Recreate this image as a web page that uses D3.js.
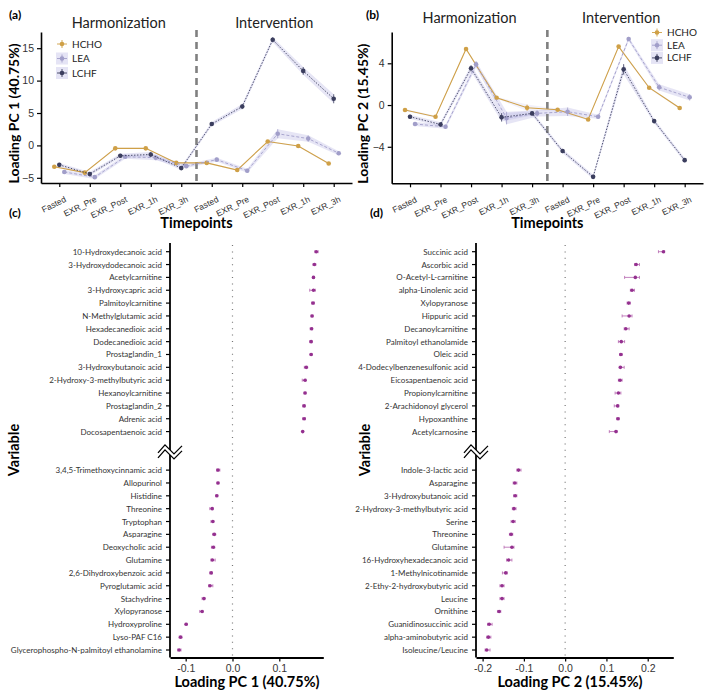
<!DOCTYPE html>
<html>
<head>
<meta charset="utf-8">
<script src="https://cdn.jsdelivr.net/npm/d3@7"></script>
<style>
  body { margin: 0; background: #fff; }
  svg { font-family: Lato, "Open Sans", sans-serif; }
</style>
</head>
<body>
<div id="chart"></div>
<script>
// ---- data ----
const timepoints = ["Fasted", "EXR_Pre", "EXR_Post", "EXR_1h", "EXR_3h",
                    "Fasted", "EXR_Pre", "EXR_Post", "EXR_1h", "EXR_3h"];
const groups = ["HCHO", "LEA", "LCHF"];

// panel (a) PC1 loadings per diet
const pc1HCHO = [-3.3, -4.2, -0.45, -0.45, -2.7, -2.7, -3.8, 0.6, -0.1, -2.8];
const pc1LEA  = [-4.1, -4.9, -1.75, -1.9, -3.2, -2.2, -3.9, 1.8, 1.05, -1.2];
const pc1LCHF = [-3.0, -4.4, -1.6, -1.4, -3.5, 3.3, 6.0, 16.3, 11.5, 7.2];
const pc1seHCHO = [0.1, 0.1, 0.1, 0.1, 0.1, 0.1, 0.1, 0.1, 0.1, 0.1];
const pc1seLEA  = [0.3, 0.3, 0.3, 0.4, 0.3, 0.3, 0.3, 0.7, 0.5, 0.3];
const pc1seLCHF = [0.3, 0.3, 0.3, 0.4, 0.3, 0.3, 0.4, 0.4, 0.6, 0.7];

// panel (b) PC2 loadings per diet
const pc2HCHO = [-0.48, -1.12, 5.37, 0.7, -0.26, -0.45, -1.38, 5.6, 1.66, -0.29];
const pc2LEA  = [-1.82, -2.08, 3.9, -1.25, -0.8, -0.64, -1.12, 6.33, 1.7, 0.74];
const pc2LCHF = [-1.12, -1.86, 3.52, -1.18, -0.8, -4.41, -6.88, 3.42, -1.54, -5.28];
const pc2seHCHO = [0.1, 0.1, 0.1, 0.1, 0.3, 0.1, 0.1, 0.1, 0.1, 0.1];
const pc2seLEA  = [0.2, 0.2, 0.3, 0.6, 0.3, 0.4, 0.2, 0.2, 0.3, 0.3];
const pc2seLCHF = [0.2, 0.2, 0.3, 0.4, 0.2, 0.2, 0.2, 0.5, 0.2, 0.2];

// panel (c) PC1 variable loadings
const pc1TopVars = ["10-Hydroxydecanoic acid", "3-Hydroxydodecanoic acid", "Acetylcarnitine",
  "3-Hydroxycapric acid", "Palmitoylcarnitine", "N-Methylglutamic acid", "Hexadecanedioic acid",
  "Dodecanedioic acid", "Prostaglandin_1", "3-Hydroxybutanoic acid", "2-Hydroxy-3-methylbutyric acid",
  "Hexanoylcarnitine", "Prostaglandin_2", "Adrenic acid", "Docosapentaenoic acid"];
const pc1TopVals = [0.179, 0.175, 0.173, 0.173, 0.172, 0.170, 0.169, 0.168, 0.168,
  0.1575, 0.155, 0.155, 0.153, 0.153, 0.150];
const pc1TopLo = [0.003, 0.003, 0.002, 0.008, 0.003, 0.002, 0.003, 0.003, 0.002,
  0.004, 0.006, 0.002, 0.003, 0.003, 0.001];
const pc1TopHi = [0.004, 0.003, 0.002, 0.004, 0.003, 0.002, 0.002, 0.002, 0.002,
  0.003, 0.002, 0.002, 0.002, 0.003, 0.001];
const pc1BotVars = ["3,4,5-Trimethoxycinnamic acid", "Allopurinol", "Histidine", "Threonine",
  "Tryptophan", "Asparagine", "Deoxycholic acid", "Glutamine", "2,6-Dihydroxybenzoic acid",
  "Pyroglutamic acid", "Stachydrine", "Xylopyranose", "Hydroxyproline", "Lyso-PAF C16",
  "Glycerophospho-N-palmitoyl ethanolamine"];
const pc1BotVals = [-0.031, -0.031, -0.0335, -0.0435, -0.042, -0.039, -0.041, -0.043, -0.0455,
  -0.048, -0.061, -0.065, -0.099, -0.111, -0.114];
const pc1BotLo = [0.003, 0.002, 0.002, 0.005, 0.004, 0.003, 0.004, 0.003, 0.003,
  0.003, 0.004, 0.005, 0.002, 0.003, 0.003];
const pc1BotHi = [0.004, 0.002, 0.002, 0.002, 0.002, 0.003, 0.003, 0.006, 0.002,
  0.006, 0.002, 0.002, 0.002, 0.003, 0.004];

// panel (d) PC2 variable loadings
const pc2TopVars = ["Succinic acid", "Ascorbic acid", "O-Acetyl-L-carnitine", "alpha-Linolenic acid",
  "Xylopyranose", "Hippuric acid", "Decanoylcarnitine", "Palmitoyl ethanolamide", "Oleic acid",
  "4-Dodecylbenzenesulfonic acid", "Eicosapentaenoic acid", "Propionylcarnitine",
  "2-Arachidonoyl glycerol", "Hypoxanthine", "Acetylcarnosine"];
const pc2TopVals = [0.238, 0.172, 0.170, 0.162, 0.154, 0.155, 0.147, 0.136, 0.135,
  0.134, 0.133, 0.129, 0.127, 0.128, 0.123];
const pc2TopLo = [0.012, 0.004, 0.026, 0.004, 0.004, 0.017, 0.004, 0.007, 0.003,
  0.003, 0.004, 0.008, 0.008, 0.003, 0.016];
const pc2TopHi = [0.003, 0.008, 0.010, 0.006, 0.004, 0.007, 0.008, 0.008, 0.003,
  0.009, 0.005, 0.006, 0.003, 0.003, 0.003];
const pc2BotVars = ["Indole-3-lactic acid", "Asparagine", "3-Hydroxybutanoic acid",
  "2-Hydroxy-3-methylbutyric acid", "Serine", "Threonine", "Glutamine", "16-Hydroxyhexadecanoic acid",
  "1-Methylnicotinamide", "2-Ethy-2-hydroxybutyric acid", "Leucine", "Ornithine",
  "Guanidinosuccinic acid", "alpha-aminobutyric acid", "Isoleucine/Leucine"];
const pc2BotVals = [-0.113, -0.122, -0.121, -0.124, -0.126, -0.131, -0.129, -0.137,
  -0.144, -0.153, -0.153, -0.160, -0.184, -0.186, -0.190];
const pc2BotLo = [0.004, 0.004, 0.004, 0.004, 0.005, 0.004, 0.019, 0.005, 0.008,
  0.005, 0.005, 0.004, 0.004, 0.004, 0.004];
const pc2BotHi = [0.006, 0.005, 0.004, 0.005, 0.005, 0.004, 0.005, 0.008, 0.004,
  0.005, 0.005, 0.004, 0.007, 0.006, 0.008];

// ---- styling ----
const colors = { HCHO: "#cfa047", LEA: "#a19ec9", LCHF: "#3b3e5e" };
const dashes = { HCHO: null, LEA: "3,2", LCHF: "1.5,1.5" };
const dodge = { HCHO: -5, LCHF: 0, LEA: 5 };
const ribbonFill = "#bdbbe6";
const dotColor = "#94308f";

const W = 709, H = 699;
const svg = d3.select("#chart").append("svg")
  .attr("width", W)
  .attr("height", H);

function linePanel(cfg) {
  const x = d3.scalePoint().domain(d3.range(timepoints.length))
    .range([cfg.left, cfg.right]).padding(0.6);
  const y = d3.scaleLinear().domain(cfg.yDomain).range([cfg.bottom, cfg.top]);
  const g = svg.append("g");

  // ribbons first so lines sit on top
  groups.forEach(grp => {
    const vals = cfg.data[grp], se = cfg.se[grp];
    const area = d3.area()
      .x((d, i) => x(i) + dodge[grp])
      .y0((d, i) => y(d - se[i]))
      .y1((d, i) => y(d + se[i]));
    g.append("path").datum(vals)
      .attr("d", area)
      .attr("fill", ribbonFill)
      .attr("opacity", grp == "HCHO" ? 0.2 : 0.38);
  });

  // separator between harmonization and intervention
  const sepX = (x(4) + x(5)) / 2;
  g.append("line")
    .attr("x1", sepX).attr("x2", sepX)
    .attr("y1", cfg.top - 2).attr("y2", cfg.bottom)
    .attr("stroke", "#808080")
    .attr("stroke-width", 2.6)
    .attr("stroke-dasharray", "7,5");

  groups.forEach(grp => {
    const vals = cfg.data[grp], se = cfg.se[grp];
    const line = d3.line().x((d, i) => x(i) + dodge[grp]).y(d => y(d));
    g.append("path").datum(vals)
      .attr("d", line)
      .attr("fill", "none")
      .attr("stroke", colors[grp])
      .attr("stroke-width", grp == "HCHO" ? 1.1 : 0.9)
      .attr("stroke-dasharray", dashes[grp]);
    g.selectAll(null).data(vals).enter().append("line")
      .attr("x1", (d, i) => x(i) + dodge[grp])
      .attr("x2", (d, i) => x(i) + dodge[grp])
      .attr("y1", (d, i) => y(d - se[i]))
      .attr("y2", (d, i) => y(d + se[i]))
      .attr("stroke", colors[grp])
      .attr("stroke-width", 0.8);
    g.selectAll(null).data(vals).enter().append("circle")
      .attr("cx", (d, i) => x(i) + dodge[grp])
      .attr("cy", d => y(d))
      .attr("r", 2.3)
      .attr("fill", colors[grp]);
  });

  // axes
  const yAxis = g.append("g")
    .attr("transform", `translate(${cfg.left},0)`)
    .call(d3.axisLeft(y).tickValues(cfg.yTicks).tickSize(4).tickSizeOuter(0));
  const xAxis = g.append("g")
    .attr("transform", `translate(0,${cfg.bottom})`)
    .call(d3.axisBottom(x).tickFormat(i => timepoints[i]).tickSize(4).tickSizeOuter(0));
  [xAxis, yAxis].forEach(a => {
    a.select(".domain").attr("stroke", "#000").attr("stroke-width", 1.6);
    a.selectAll(".tick line").attr("stroke", "#000").attr("stroke-width", 1.2);
  });
  yAxis.selectAll("text").attr("font-size", 10.5).attr("fill", "#333");
  xAxis.selectAll("text")
    .attr("font-size", 8.5).attr("fill", "#333")
    .attr("text-anchor", "end")
    .attr("dy", 0)
    .attr("transform", "translate(4,12) rotate(-26)");

  // titles
  g.append("text").attr("x", (cfg.left + sepX) / 2).attr("y", cfg.phaseY)
    .attr("text-anchor", "middle").attr("font-size", 14.5).attr("fill", "#222")
    .text("Harmonization");
  g.append("text").attr("x", (sepX + cfg.right) / 2 + cfg.intShift).attr("y", cfg.phaseY)
    .attr("text-anchor", "middle").attr("font-size", 14.5).attr("fill", "#222")
    .text("Intervention");
  g.append("text").attr("x", cfg.tagX).attr("y", 19)
    .attr("font-size", 12).attr("font-weight", "bold").text(cfg.tag);
  g.append("text")
    .attr("transform", `translate(${cfg.yTitleX},${(cfg.top + cfg.bottom) / 2 + 6}) rotate(-90)`)
    .attr("text-anchor", "middle").attr("font-size", 14).attr("font-weight", "bold")
    .text(cfg.yTitle);
  g.append("text").attr("x", (cfg.left + cfg.right) / 2).attr("y", 228)
    .attr("text-anchor", "middle").attr("font-size", 14.5).attr("font-weight", "bold")
    .text("Timepoints");

  // legend
  groups.forEach((grp, k) => {
    const ly = cfg.legY + k * cfg.legStep;
    const lg = g.append("g").attr("transform", `translate(${cfg.legX},${ly})`);
    if (grp != "HCHO") {
      lg.append("rect").attr("x", -6).attr("y", -6).attr("width", 12).attr("height", 12)
        .attr("fill", ribbonFill).attr("opacity", 0.4);
    }
    lg.append("line").attr("x1", -5).attr("x2", 5).attr("stroke", colors[grp]).attr("stroke-width", 0.9);
    lg.append("line").attr("y1", -4).attr("y2", 4).attr("stroke", colors[grp]).attr("stroke-width", 0.9);
    lg.append("circle").attr("r", 2.3).attr("fill", colors[grp]);
    lg.append("text").attr("x", 10).attr("y", 3.5).attr("font-size", 10).attr("fill", "#222").text(grp);
  });
}

linePanel({
  left: 41, right: 352, top: 32, bottom: 183, yDomain: [-5.8, 17.5], yTicks: [-5, 0, 5, 10, 15],
  data: { HCHO: pc1HCHO, LEA: pc1LEA, LCHF: pc1LCHF },
  se: { HCHO: pc1seHCHO, LEA: pc1seLEA, LCHF: pc1seLCHF },
  tag: "(a)", tagX: 9, phaseY: 28, intShift: 0, yTitleX: 19, yTitle: "Loading PC 1 (40.75%)",
  legX: 62, legY: 44, legStep: 14.5
});
linePanel({
  left: 391.7, right: 703, top: 32, bottom: 183.3, yDomain: [-7.5, 7.0], yTicks: [-4, 0, 4],
  data: { HCHO: pc2HCHO, LEA: pc2LEA, LCHF: pc2LCHF },
  se: { HCHO: pc2seHCHO, LEA: pc2seLEA, LCHF: pc2seLCHF },
  tag: "(b)", tagX: 366, phaseY: 23, intShift: -4, yTitleX: 368, yTitle: "Loading PC 2 (15.45%)",
  legX: 657, legY: 32.5, legStep: 12.7
});

function dotPanel(cfg) {
  const x = d3.scaleLinear().domain(cfg.xDomain).range([cfg.left, cfg.right]);
  const slots = d3.scalePoint().domain(d3.range(32)).range([251.7, 650]);
  const top = 243, bottom = 657.5;
  const rows = [];
  cfg.topVars.forEach((v, i) => rows.push({ name: v, val: cfg.topVals[i], lo: cfg.topLo[i], hi: cfg.topHi[i], slot: i }));
  cfg.botVars.forEach((v, i) => rows.push({ name: v, val: cfg.botVals[i], lo: cfg.botLo[i], hi: cfg.botHi[i], slot: 17 + i }));
  const g = svg.append("g");

  // dotted zero line
  g.append("line")
    .attr("x1", x(0)).attr("x2", x(0)).attr("y1", top + 2).attr("y2", bottom)
    .attr("stroke", "#777").attr("stroke-width", 1.2).attr("stroke-dasharray", "1,5.4");

  // axes
  const xAxis = g.append("g").attr("transform", `translate(0,${bottom})`)
    .call(d3.axisBottom(x).tickValues(cfg.xTicks).tickFormat(d3.format(".1f")).tickSize(4).tickSizeOuter(0));
  xAxis.select(".domain").attr("stroke", "#000").attr("stroke-width", 1.8);
  xAxis.selectAll(".tick line").attr("stroke", "#000").attr("stroke-width", 1.2);
  xAxis.selectAll("text").attr("font-size", 10.5).attr("fill", "#333")
    .text(d => d3.format(".1f")(d).replace("−", "-"));

  g.append("line").attr("x1", cfg.left).attr("x2", cfg.left).attr("y1", top).attr("y2", bottom)
    .attr("stroke", "#000").attr("stroke-width", 1.8);
  g.selectAll(null).data(rows).enter().append("line")
    .attr("x1", cfg.left - 4).attr("x2", cfg.left)
    .attr("y1", d => slots(d.slot)).attr("y2", d => slots(d.slot))
    .attr("stroke", "#000").attr("stroke-width", 1.2);
  g.selectAll(null).data(rows).enter().append("text")
    .attr("x", cfg.left - 8).attr("y", d => slots(d.slot) + 3)
    .attr("text-anchor", "end").attr("font-size", 8).attr("fill", "#333")
    .text(d => d.name);

  // axis break marker
  const by = (slots(15) + slots(16)) / 2 - 2;
  const zig = [[-12, 4], [-5, -4], [4, 5], [12, -3]];
  g.append("polygon")
    .attr("points", zig.map(p => [cfg.left + p[0], by + p[1]]).concat(
      zig.slice().reverse().map(p => [cfg.left + p[0], by + p[1] + 5])).join(" "))
    .attr("fill", "#fff");
  [0, 5].forEach(off => {
    g.append("polyline")
      .attr("points", zig.map(p => [cfg.left + p[0], by + p[1] + off]).join(" "))
      .attr("fill", "none").attr("stroke", "#000").attr("stroke-width", 1.3);
  });

  // error bars and points
  g.selectAll(null).data(rows).enter().append("line")
    .attr("x1", d => x(d.val - d.lo)).attr("x2", d => x(d.val + d.hi))
    .attr("y1", d => slots(d.slot)).attr("y2", d => slots(d.slot))
    .attr("stroke", "#b565ae").attr("stroke-width", 0.8);
  ["lo", "hi"].forEach(side => {
    g.selectAll(null).data(rows).enter().append("line")
      .attr("x1", d => x(side == "lo" ? d.val - d.lo : d.val + d.hi))
      .attr("x2", d => x(side == "lo" ? d.val - d.lo : d.val + d.hi))
      .attr("y1", d => slots(d.slot) - 1.5).attr("y2", d => slots(d.slot) + 1.5)
      .attr("stroke", "#b565ae").attr("stroke-width", 0.8);
  });
  g.selectAll(null).data(rows).enter().append("circle")
    .attr("cx", d => x(d.val)).attr("cy", d => slots(d.slot)).attr("r", 1.8)
    .attr("fill", dotColor);

  // titles
  g.append("text").attr("x", cfg.tagX).attr("y", 217)
    .attr("font-size", 12).attr("font-weight", "bold").text(cfg.tag);
  g.append("text")
    .attr("transform", `translate(${cfg.varX},450) rotate(-90)`)
    .attr("text-anchor", "middle").attr("font-size", 14.5).attr("font-weight", "bold")
    .text("Variable");
  g.append("text").attr("x", cfg.titleX).attr("y", 687)
    .attr("text-anchor", "middle").attr("font-size", 14.5).attr("font-weight", "bold")
    .text(cfg.xTitle);
}

dotPanel({
  left: 170, right: 323.3, xDomain: [-0.1335, 0.194], xTicks: [-0.1, 0, 0.1],
  topVars: pc1TopVars, topVals: pc1TopVals, topLo: pc1TopLo, topHi: pc1TopHi,
  botVars: pc1BotVars, botVals: pc1BotVals, botLo: pc1BotLo, botHi: pc1BotHi,
  tag: "(c)", tagX: 9, varX: 19, titleX: 247, xTitle: "Loading PC 1 (40.75%)"
});
dotPanel({
  left: 476, right: 673.3, xDomain: [-0.216, 0.262], xTicks: [-0.2, -0.1, 0, 0.1, 0.2],
  topVars: pc2TopVars, topVals: pc2TopVals, topLo: pc2TopLo, topHi: pc2TopHi,
  botVars: pc2BotVars, botVals: pc2BotVals, botLo: pc2BotLo, botHi: pc2BotHi,
  tag: "(d)", tagX: 370, varX: 370, titleX: 570, xTitle: "Loading PC 2 (15.45%)"
});
</script>
</body>
</html>
